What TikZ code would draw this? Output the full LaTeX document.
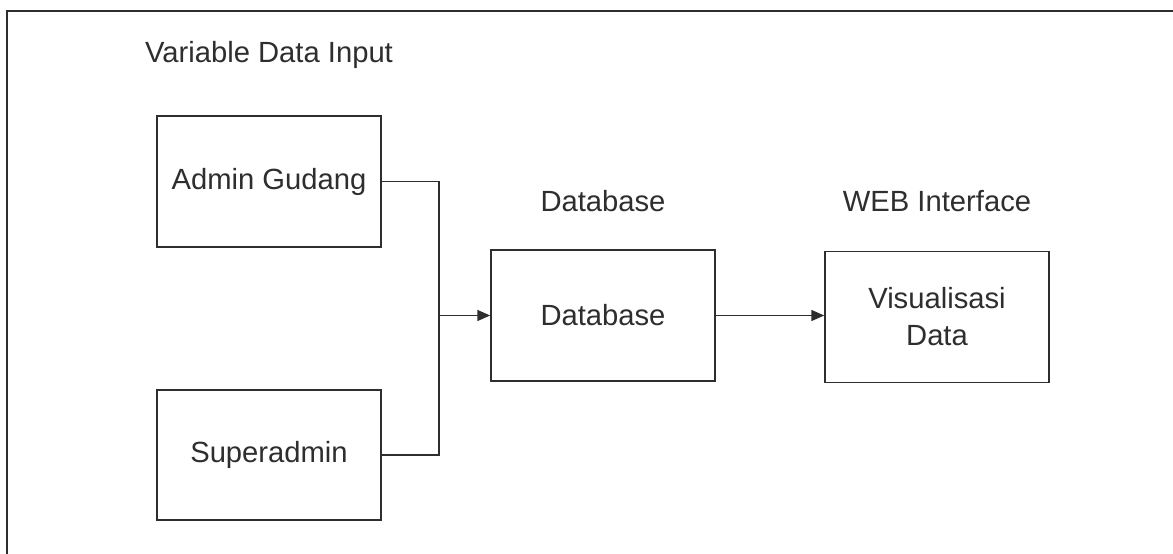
\documentclass[tikz,border=0pt]{standalone}
\usepackage{fontspec}
\setmainfont{Liberation Sans}
\usetikzlibrary{arrows.meta}
\definecolor{ink}{HTML}{2E2E2E}
\tikzset{
  box/.style={draw=ink, line width=1.5pt, minimum width=224pt, minimum height=131pt, inner sep=0pt, text=ink,
    font=\fontsize{29.2}{37}\selectfont, align=center},
  title/.style={text=ink, font=\fontsize{29.2}{37}\selectfont, inner sep=0pt, text height=0.716em, text depth=0pt},
  link/.style={draw=ink, line width=1.5pt},
  arr/.style={link, -{Triangle[length=13pt,width=11pt]}}
}
\begin{document}
\begin{tikzpicture}[x=1pt,y=-1pt]
\useasboundingbox (0,0) rectangle (1173,554);
\fill[white] (0,0) rectangle (1173,554);
% outer frame (only left and top edges visible)
\draw[ink, line width=1.5pt] (7,556) -- (7,11) -- (1175,11);

\node[title] (tin) at (269,59) {Variable Data Input};
\node[title] (tdb) at (603,208) {Database};
\node[title] (tweb) at (937,208) {WEB Interface};

\node[box] (admin) at (269,181.5) {Admin Gudang};
\node[box, minimum height=130pt] (super) at (269,455) {Superadmin};
\node[box] (db) at (603,315.5) {Database};
\node[box] (vis) at (937,317) {Visualisasi\\Data};

\coordinate (j) at (439,315.5);
\draw[link] (admin.east) -| (j);
\draw[link] (super.east) -| (j);
\draw[arr] (j) -- (db.west);
\draw[arr] (db.east) -- (vis.west |- db.east);
\end{tikzpicture}
\end{document}
